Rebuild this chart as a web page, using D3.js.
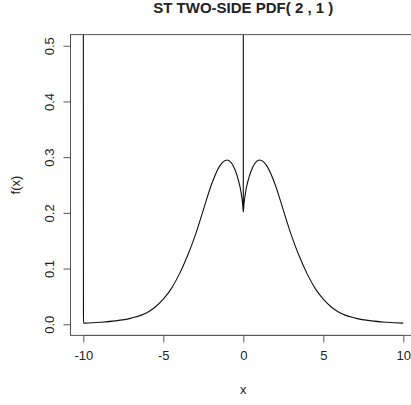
<!DOCTYPE html>
<html>
<head>
<meta charset="utf-8">
<script src="https://cdn.jsdelivr.net/npm/d3@7"></script>
<style>
  html, body { margin: 0; padding: 0; background: #fff; }
  svg { display: block; }
</style>
</head>
<body>
<svg id="chart" width="411" height="405"></svg>
<script>
// ---- data ----
const titleText = "ST TWO-SIDE PDF( 2 , 1 )";
const xLabel = "x";
const yLabel = "f(x)";
const xTicks = [-10, -5, 0, 5, 10];
const xTickLabels = ["-10", "-5", "0", "5", "10"];
const yTicks = [0.0, 0.1, 0.2, 0.3, 0.4, 0.5];
const yTickLabels = ["0.0", "0.1", "0.2", "0.3", "0.4", "0.5"];

// density curve samples (values above 0.52 run off the top of the plot)
const xValues = [
  -10, -9.99, -9, -8, -7, -6, -5.5, -5, -4.5, -4, -3.5, -3, -2.5, -2, -1.5, -1.25, -1, -0.75, -0.5, -0.3, -0.2, -0.1, -0.05, -0.001,
  0,
  0.001, 0.05, 0.1, 0.2, 0.3, 0.5, 0.75, 1, 1.25, 1.5, 2, 2.5, 3, 3.5, 4, 4.5, 5, 5.5, 6, 7, 8, 9, 10
];
const fValues = [
  1.0, 0.002, 0.0035, 0.006, 0.011, 0.021, 0.031, 0.045, 0.064, 0.09, 0.122, 0.16, 0.205, 0.25, 0.283, 0.292, 0.295, 0.29, 0.276, 0.258, 0.246, 0.229, 0.218, 0.202,
  1.0,
  0.202, 0.218, 0.229, 0.246, 0.258, 0.276, 0.29, 0.295, 0.292, 0.283, 0.25, 0.205, 0.16, 0.122, 0.09, 0.064, 0.045, 0.031, 0.021, 0.011, 0.006, 0.0035, 0.002
];

// ---- layout ----
const svg = d3.select("#chart");
const plot = { left: 70.5, right: 416.1, top: 34.6, bottom: 335.4 };

const x = d3.scaleLinear().domain([-10.8, 10.8]).range([plot.left, plot.right]);
const y = d3.scaleLinear().domain([-0.02, 0.52]).range([plot.bottom, plot.top]);

const ink = "#222";
const font = "'Liberation Sans', Arial, sans-serif";

// clip
svg.append("defs").append("clipPath").attr("id", "clip")
  .append("rect")
  .attr("x", plot.left).attr("y", plot.top)
  .attr("width", plot.right - plot.left).attr("height", plot.bottom - plot.top);

// curve
const pts = xValues.map((v, i) => [v, fValues[i]]);
const line = d3.line().x(d => x(d[0])).y(d => y(d[1])).curve(d3.curveMonotoneX);
svg.append("path")
  .attr("d", line(pts))
  .attr("clip-path", "url(#clip)")
  .attr("fill", "none")
  .attr("stroke", "#111")
  .attr("stroke-width", 1.1);

// box
svg.append("rect")
  .attr("x", plot.left).attr("y", plot.top)
  .attr("width", plot.right - plot.left).attr("height", plot.bottom - plot.top)
  .attr("fill", "none").attr("stroke", "#555").attr("stroke-width", 1);

// x axis
const xAxis = d3.axisBottom(x)
  .tickValues(xTicks)
  .tickFormat((d, i) => xTickLabels[i])
  .tickSize(7)
  .tickPadding(8);
const gx = svg.append("g").attr("transform", `translate(0,${plot.bottom})`).call(xAxis);
gx.select(".domain").attr("d", `M${x(xTicks[0])},0H${x(xTicks[xTicks.length - 1])}`).attr("stroke", "#555");
gx.selectAll(".tick line").attr("stroke", "#555");
gx.selectAll(".tick text").attr("font-family", font).attr("font-size", "13px").attr("fill", ink);

// y axis
const yAxis = d3.axisLeft(y)
  .tickValues(yTicks)
  .tickFormat((d, i) => yTickLabels[i])
  .tickSize(7);
const gy = svg.append("g").attr("transform", `translate(${plot.left},0)`).call(yAxis);
gy.select(".domain").attr("d", `M0,${y(yTicks[0])}V${y(yTicks[yTicks.length - 1])}`).attr("stroke", "#555");
gy.selectAll(".tick line").attr("stroke", "#555");
gy.selectAll(".tick text")
  .attr("font-family", font).attr("font-size", "13px").attr("fill", ink)
  .attr("x", null).attr("dy", null)
  .attr("text-anchor", "middle")
  .attr("transform", "translate(-17,0) rotate(-90)");

// title
svg.append("text")
  .attr("x", (plot.left + plot.right) / 2).attr("y", 13.3)
  .attr("text-anchor", "middle")
  .attr("font-family", font).attr("font-size", "15px").attr("font-weight", "bold")
  .attr("fill", ink)
  .text(titleText);

// axis titles
svg.append("text")
  .attr("x", x(0)).attr("y", 394)
  .attr("text-anchor", "middle")
  .attr("font-family", font).attr("font-size", "13px").attr("fill", ink)
  .text(xLabel);

svg.append("text")
  .attr("transform", `translate(20,${(plot.top + plot.bottom) / 2}) rotate(-90)`)
  .attr("text-anchor", "middle")
  .attr("font-family", font).attr("font-size", "13px").attr("fill", ink)
  .text(yLabel);
</script>
</body>
</html>
